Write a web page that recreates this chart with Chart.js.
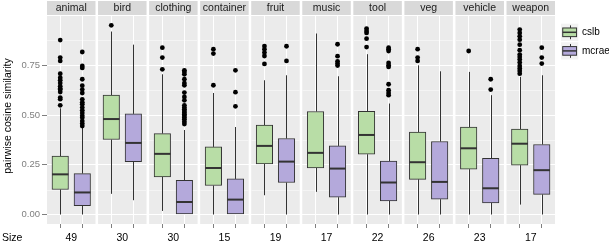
<!DOCTYPE html>
<html>
<head>
<meta charset="utf-8">
<script src="https://cdn.jsdelivr.net/npm/chart.js@4"></script>
<style>
html,body{margin:0;padding:0;background:#fff;}
#wrap{width:609px;height:242px;position:relative;}
</style>
</head>
<body>
<div id="wrap"><canvas id="c" width="609" height="242"></canvas></div>
<script>
// ---------- DATA ----------
const categories = ['animal','bird','clothing','container','fruit','music','tool','veg','vehicle','weapon'];
const sizes = [49,30,30,15,19,17,22,26,23,17];
const seriesNames = ['cslb','mcrae'];
const yTicks = [0, 0.25, 0.5, 0.75];

// cslb boxplot statistics
const cslbLow  = [0.000,0.104,0.018,0.000,0.097,0.114,0.000,0.000,0.000,0.050];
const cslbQ1   = [0.126,0.377,0.189,0.146,0.254,0.234,0.303,0.177,0.228,0.248];
const cslbMed  = [0.202,0.480,0.305,0.234,0.345,0.310,0.400,0.263,0.333,0.356];
const cslbQ3   = [0.294,0.600,0.407,0.340,0.450,0.518,0.519,0.414,0.440,0.430];
const cslbHigh = [0.534,0.920,0.705,0.611,0.675,0.910,0.806,0.750,0.717,0.692];
const cslbOut  = [
  [0.549,0.580,0.588,0.616,0.628,0.633,0.645,0.661,0.675,0.688,0.708,0.772,0.789,0.877],
  [0.951],
  [0.730,0.789,0.839],
  [0.650,0.809,0.831],
  [0.757,0.797,0.814,0.831,0.847],
  [],
  [0.842,0.884,0.913,0.923,0.935],
  [0.772,0.789,0.831],
  [0.822],
  [0.708,0.722,0.734,0.747,0.764,0.779,0.792,0.804,0.826,0.854,0.879,0.896,0.913,0.930]
];

// mcrae boxplot statistics
const mcraeLow  = [0.000,0.072,0.000,0.000,0.000,0.000,0.000,0.000,0.000,0.000];
const mcraeQ1   = [0.045,0.266,0.000,0.000,0.161,0.087,0.068,0.077,0.058,0.101];
const mcraeMed  = [0.111,0.360,0.063,0.075,0.266,0.231,0.161,0.164,0.132,0.223];
const mcraeQ3   = [0.206,0.506,0.172,0.179,0.382,0.345,0.269,0.367,0.283,0.352];
const mcraeHigh = [0.435,0.854,0.425,0.440,0.700,0.695,0.558,0.720,0.600,0.700];
const mcraeOut  = [
  [0.445,0.457,0.470,0.486,0.496,0.511,0.524,0.538,0.554,0.564,0.579,0.611,0.628,0.648,0.680,0.737,0.747,0.817],
  [],
  [0.455,0.467,0.479,0.488,0.496,0.504,0.512,0.521,0.529,0.538,0.549,0.574,0.591,0.613,0.650,0.661,0.680,0.705,0.717,0.725],
  [0.544,0.615,0.725],
  [0.772,0.846],
  [0.749,0.759,0.770,0.796,0.856],
  [0.600,0.611,0.625,0.655,0.742,0.750,0.762,0.822,0.831,0.839],
  [],
  [0.628,0.680],
  [0.759,0.789,0.839]
];

// ---------- LAYOUT / STYLE ----------
const PANEL = 2.2;      // discrete range 0.4..2.6 within each facet
const GAP = 0.116;
const STEP = PANEL + GAP;
const XMAX = categories.length * PANEL + (categories.length - 1) * GAP;
const fills = ['#B8DDA6', '#B4A9DB'];
const LINE = '#333333';
const FONT = '"Liberation Sans", Arial, sans-serif';

const stats = [
  {low: cslbLow, q1: cslbQ1, med: cslbMed, q3: cslbQ3, high: cslbHigh, out: cslbOut},
  {low: mcraeLow, q1: mcraeQ1, med: mcraeMed, q3: mcraeQ3, high: mcraeHigh, out: mcraeOut}
];
const boxX = (i, s) => i * STEP + 0.6 + s;
const boxCenters = [];
categories.forEach((c, i) => { boxCenters.push(boxX(i, 0), boxX(i, 1)); });

const barSets = stats.map((st, s) => ({
  type: 'bar',
  label: seriesNames[s],
  data: categories.map((c, i) => ({x: boxX(i, s), y: [st.q1[i], st.q3[i]]})),
  backgroundColor: fills[s],
  borderColor: LINE,
  borderWidth: 1,
  borderSkipped: false,
  grouped: false,
  barThickness: 16.5,
  order: 2
}));
const outSets = stats.map((st, s) => {
  const pts = [];
  st.out.forEach((arr, i) => arr.forEach(v => pts.push({x: boxX(i, s), y: v})));
  return {
    type: 'scatter',
    label: seriesNames[s] + ' outliers',
    data: pts,
    pointRadius: 2.4,
    pointBackgroundColor: '#000',
    pointBorderWidth: 0,
    order: 1
  };
});

const facetPlugin = {
  id: 'facets',
  beforeDraw(chart) {
    const {ctx, chartArea: a, scales: {x, y}} = chart;
    ctx.save();
    categories.forEach((c, i) => {
      const l = x.getPixelForValue(i * STEP), r = x.getPixelForValue(i * STEP + PANEL);
      ctx.fillStyle = '#EBEBEB';
      ctx.fillRect(l, a.top, r - l, a.bottom - a.top);
      ctx.fillStyle = '#D9D9D9';
      ctx.fillRect(l, 1, r - l, 14);
      // minor gridlines
      ctx.strokeStyle = '#F4F4F4';
      ctx.lineWidth = 1;
      for (let k = 0; k < yTicks.length; k++) {
        const v = yTicks[k] + 0.125;
        const py = Math.round(y.getPixelForValue(v)) + 0.5;
        ctx.beginPath(); ctx.moveTo(l, py); ctx.lineTo(r, py); ctx.stroke();
      }
      ctx.fillStyle = '#1a1a1a';
      ctx.font = '10.5px ' + FONT;
      ctx.textAlign = 'center';
      ctx.textBaseline = 'middle';
      ctx.fillText(c, (l + r) / 2, 8.5);
      ctx.fillStyle = '#000';
      ctx.font = '10.5px ' + FONT;
      ctx.textBaseline = 'alphabetic';
      ctx.fillText(String(sizes[i]), (l + r) / 2, 240.5);
    });
    ctx.textAlign = 'left';
    ctx.fillText('Size', 2, 240.5);
    // y axis title
    ctx.translate(8, 116);
    ctx.rotate(-Math.PI / 2);
    ctx.textAlign = 'center';
    ctx.textBaseline = 'middle';
    ctx.font = '10.5px ' + FONT;
    ctx.fillText('pairwise cosine similarity', 0, 0);
    ctx.restore();
  },
  beforeDatasetsDraw(chart) {
    const {ctx, scales: {x, y}} = chart;
    ctx.save();
    ctx.strokeStyle = LINE;
    ctx.lineWidth = 1;
    stats.forEach((st, s) => {
      categories.forEach((c, i) => {
        const px = Math.round(x.getPixelForValue(boxX(i, s))) + 0.5;
        ctx.beginPath();
        ctx.moveTo(px, y.getPixelForValue(st.q3[i]));
        ctx.lineTo(px, y.getPixelForValue(st.high[i]));
        ctx.moveTo(px, y.getPixelForValue(st.q1[i]));
        ctx.lineTo(px, y.getPixelForValue(st.low[i]));
        ctx.stroke();
      });
    });
    ctx.restore();
  },
  afterDatasetsDraw(chart) {
    const {ctx, scales: {x, y}} = chart;
    ctx.save();
    ctx.strokeStyle = LINE;
    ctx.lineWidth = 2;
    stats.forEach((st, s) => {
      categories.forEach((c, i) => {
        const cx = x.getPixelForValue(boxX(i, s));
        const py = y.getPixelForValue(st.med[i]);
        ctx.beginPath();
        ctx.moveTo(cx - 8.25, py);
        ctx.lineTo(cx + 8.25, py);
        ctx.stroke();
      });
    });
    ctx.restore();
  },
  afterDraw(chart) {
    const {ctx} = chart;
    ctx.save();
    seriesNames.forEach((name, s) => {
      const cy = 32.3 + s * 18.6;
      const k = 17.3, kx = 561;
      const top = cy - k / 2;
      ctx.fillStyle = '#F2F2F2';
      ctx.fillRect(kx, top, k, k);
      ctx.strokeStyle = LINE;
      ctx.lineWidth = 1;
      const mx = Math.round(kx + k / 2) + 0.5;
      ctx.beginPath();
      ctx.moveTo(mx, top + k * 0.1); ctx.lineTo(mx, top + k * 0.25);
      ctx.moveTo(mx, top + k * 0.75); ctx.lineTo(mx, top + k * 0.9);
      ctx.stroke();
      ctx.fillStyle = fills[s];
      ctx.fillRect(kx + k * 0.1, top + k * 0.25, k * 0.8, k * 0.5);
      ctx.strokeRect(kx + k * 0.1, top + k * 0.25, k * 0.8, k * 0.5);
      ctx.lineWidth = 1.5;
      ctx.beginPath();
      ctx.moveTo(kx + k * 0.1, cy); ctx.lineTo(kx + k * 0.9, cy);
      ctx.stroke();
      ctx.fillStyle = '#000';
      ctx.font = '10px ' + FONT;
      ctx.textAlign = 'left';
      ctx.textBaseline = 'middle';
      ctx.fillText(name, 582, cy);
    });
    ctx.restore();
  }
};

new Chart(document.getElementById('c'), {
  type: 'bar',
  data: {datasets: [...outSets, ...barSets]},
  options: {
    responsive: false,
    animation: false,
    events: [],
    layout: {padding: {top: 16, right: 54, left: 0, bottom: 0}},
    plugins: {legend: {display: false}, tooltip: {enabled: false}},
    scales: {
      x: {
        type: 'linear',
        min: 0, max: XMAX,
        offset: false,
        afterBuildTicks: sc => { sc.ticks = boxCenters.map(v => ({value: v})); },
        afterFit: sc => { sc.height = 18; },
        ticks: {display: false},
        grid: {color: '#FFFFFF', lineWidth: 1, offset: false, drawTicks: true, tickLength: 4, tickColor: '#7F7F7F', tickWidth: 1},
        border: {display: false}
      },
      y: {
        type: 'linear',
        min: -0.0476, max: 0.998,
        afterBuildTicks: sc => { sc.ticks = yTicks.map(v => ({value: v})); },
        afterFit: sc => { sc.width = 47; },
        ticks: {
          font: {family: FONT, size: 9.5},
          color: '#7F7F7F',
          padding: 2,
          callback: v => Number(v).toFixed(2)
        },
        grid: {color: '#FFFFFF', lineWidth: 1, drawTicks: true, tickLength: 5, tickColor: '#7F7F7F', tickWidth: 1},
        border: {display: false}
      }
    }
  },
  plugins: [facetPlugin]
});
</script>
</body>
</html>
